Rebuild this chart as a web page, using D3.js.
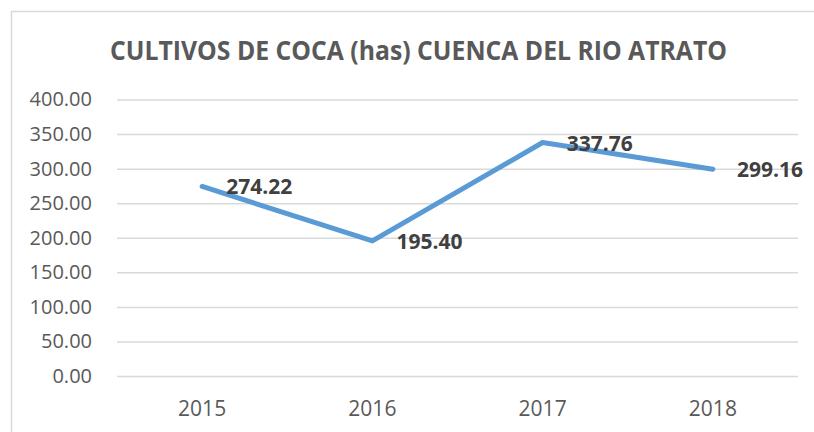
<!DOCTYPE html>
<html>
<head>
<meta charset="utf-8">
<script src="https://cdn.jsdelivr.net/npm/d3@7"></script>
<style>
  body { margin: 0; background: #fff; }
  svg { display: block; }
</style>
</head>
<body>
<svg id="chart" width="814" height="432"></svg>
<script>
// data
let years = ["2015", "2016", "2017", "2018"];
let hectares = [274.22, 195.40, 337.76, 299.16];
let yTicks = [0, 50, 100, 150, 200, 250, 300, 350, 400];
let title = "CULTIVOS DE COCA (has) CUENCA DEL RIO ATRATO";

let chart = d3.select("#chart");

// plot area edges
let plotLeft = 117, plotRight = 798, plotTop = 99.5, plotBottom = 376;

// chart frame (runs off the right and bottom edges)
chart.append("rect")
    .attr("x", 11.5).attr("y", 11.5)
    .attr("width", 830).attr("height", 440)
    .attr("fill", "#fff")
    .attr("stroke", "#d9d9d9")
    .attr("stroke-width", 1.5);

let xscale = d3.scaleBand()
    .domain(years)
    .range([plotLeft, plotRight]);

let yscale = d3.scaleLinear()
    .domain([0, 400])
    .range([plotBottom, plotTop]);

// gridlines + y labels
let yAxis = chart.append("g")
    .attr("transform", "translate(" + plotLeft + ",0)")
    .call(d3.axisLeft(yscale)
        .tickValues(yTicks)
        .tickSize(-(plotRight - plotLeft))
        .tickPadding(25)
        .tickFormat(d3.format(".2f")));
yAxis.select(".domain").remove();
yAxis.selectAll("line").attr("stroke", "#d9d9d9").attr("stroke-width", 1.5);
yAxis.selectAll("text")
    .attr("fill", "#595959")
    .style("font-family", "'Open Sans', sans-serif")
    .style("font-size", "20px");

// x labels
let xAxis = chart.append("g")
    .attr("transform", "translate(0," + plotBottom + ")")
    .call(d3.axisBottom(xscale).tickSize(0).tickPadding(0));
xAxis.select(".domain").remove();
xAxis.selectAll("text")
    .attr("y", 40)
    .attr("dy", 0)
    .attr("fill", "#595959")
    .style("font-family", "'Open Sans', sans-serif")
    .style("font-size", "21px");

// title
chart.append("text")
    .attr("x", 418.5)
    .attr("y", 60)
    .attr("text-anchor", "middle")
    .attr("textLength", 617)
    .attr("lengthAdjust", "spacingAndGlyphs")
    .attr("fill", "#595959")
    .style("font-family", "'Open Sans', sans-serif")
    .style("font-weight", "bold")
    .style("font-size", "27px")
    .text(title);

let cx = d => xscale(d) + xscale.bandwidth() / 2;

// line
let line = d3.line()
    .x((d, i) => cx(years[i]))
    .y(d => yscale(d));

chart.append("path")
    .datum(hectares)
    .attr("d", line)
    .attr("fill", "none")
    .attr("stroke", "#5b9bd5")
    .attr("stroke-width", 5)
    .attr("stroke-linejoin", "round")
    .attr("stroke-linecap", "round");

// data labels, to the right of each point
chart.selectAll("text.value")
    .data(hectares)
    .enter().append("text")
    .attr("class", "value")
    .attr("x", (d, i) => cx(years[i]) + 24)
    .attr("y", d => yscale(d) + 8)
    .attr("fill", "#404040")
    .style("font-family", "'Open Sans', sans-serif")
    .style("font-weight", "bold")
    .style("font-size", "21px")
    .text(d => d.toFixed(2));
</script>
</body>
</html>
